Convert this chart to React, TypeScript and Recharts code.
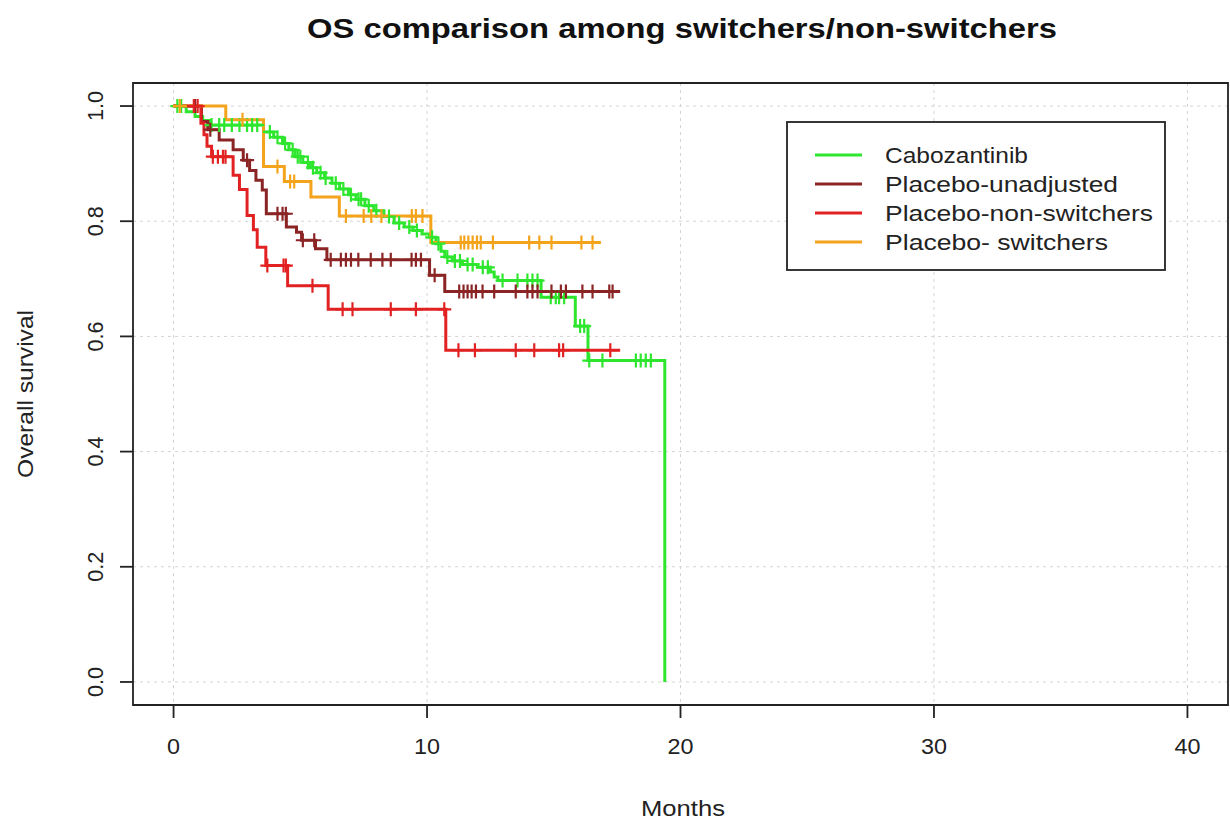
import React from 'react';
import { LineChart, Line, XAxis, YAxis, CartesianGrid, ReferenceArea } from 'recharts';

// Kaplan-Meier step points [month, survival]
const caboSteps: [number, number][] = [
    [0, 1.0], [0.5, 0.99], [0.85, 0.982], [1.15, 0.975], [1.45, 0.967], [3.55, 0.955], [3.95, 0.946],
    [4.3, 0.935], [4.55, 0.924], [4.8, 0.912], [5.1, 0.902], [5.4, 0.893], [5.65, 0.884], [5.95, 0.875],
    [6.25, 0.866], [6.55, 0.856], [6.9, 0.846], [7.2, 0.838], [7.55, 0.827], [7.9, 0.818], [8.3, 0.808],
    [8.7, 0.797], [9.1, 0.79], [9.45, 0.784], [9.8, 0.778], [10.1, 0.772], [10.35, 0.761], [10.55, 0.748],
    [10.7, 0.738], [11.0, 0.731], [11.4, 0.725], [12.0, 0.72], [12.5, 0.712], [12.65, 0.703], [12.8, 0.697],
    [14.5, 0.668], [15.85, 0.618], [16.35, 0.558], [19.38, 0.0],
];
const caboCensor = [
    0.15, 0.3, 1.5, 1.8, 2.0, 2.3, 2.6, 2.9, 3.1, 3.3, 3.8, 4.1, 4.4, 4.7, 4.9, 5.0, 5.3, 5.5, 5.8, 6.0,
    6.4, 6.7, 7.0, 7.3, 7.4, 7.7, 8.0, 8.5, 8.9, 9.3, 9.6, 10.2, 10.45, 10.8, 11.1, 11.3, 11.6, 11.8, 12.2,
    12.4, 12.98, 13.57, 13.96, 14.16, 14.36, 14.88, 15.08, 15.21, 15.41, 16.04, 16.2, 16.4, 16.92, 18.24,
    18.43, 18.63, 18.83,
];

const unadjSteps: [number, number][] = [
    [0, 1.0], [1.1, 0.973], [1.35, 0.959], [1.8, 0.941], [2.35, 0.924], [2.75, 0.906], [3.0, 0.888],
    [3.25, 0.871], [3.5, 0.854], [3.66, 0.813], [4.45, 0.79], [4.85, 0.781], [5.05, 0.767], [5.6, 0.752],
    [6.05, 0.733], [10.1, 0.706], [10.7, 0.678],
];
const unadjCensor = [
    0.85, 1.45, 2.9, 4.1, 4.3, 4.43, 5.1, 5.55, 6.2, 6.6, 6.8, 7.0, 7.29, 7.78, 8.24, 8.57, 9.39, 9.56,
    9.76, 10.3, 11.27, 11.44, 11.6, 11.76, 11.93, 12.19, 12.65, 13.5, 13.96, 14.16, 14.36, 14.91, 15.28,
    15.48, 16.13, 16.53, 17.19, 17.32,
];
const unadjEnd = 17.62;

const nonSwSteps: [number, number][] = [
    [0, 1.0], [1.08, 0.97], [1.2, 0.95], [1.32, 0.93], [1.5, 0.912], [2.35, 0.88], [2.6, 0.855],
    [2.9, 0.81], [3.15, 0.785], [3.3, 0.755], [3.64, 0.723], [4.5, 0.688], [6.1, 0.647], [10.74, 0.576],
];
const nonSwCensor = [
    0.8, 0.95, 1.55, 1.75, 1.95, 2.05, 3.7, 4.34, 4.43, 5.48, 6.67, 7.06, 8.57, 9.56, 10.68, 11.24,
    11.89, 13.5, 14.23, 15.21, 15.37, 17.23,
];
const nonSwEnd = 17.62;

const swSteps: [number, number][] = [
    [0, 1.0], [2.06, 0.976], [3.55, 0.895], [4.37, 0.869], [5.42, 0.842], [6.54, 0.809], [10.15, 0.763],
];
const swCensor = [
    0.25, 2.72, 4.1, 4.6, 4.76, 6.8, 7.5, 7.8, 8.2, 9.4, 9.56, 9.82, 11.33, 11.47, 11.63, 11.8, 11.97,
    12.12, 12.6, 14.03, 14.43, 14.91, 16.09, 16.53,
];
const swEnd = 16.86;

const X_TICKS = [0, 10, 20, 30, 40];
const Y_TICKS = [0, 0.2, 0.4, 0.6, 0.8, 1.0];

const SERIES_NAMES = ['Cabozantinib', 'Placebo-unadjusted', 'Placebo-non-switchers', 'Placebo- switchers'];
const COLORS = ['#2ee62e', '#8b2424', '#e22222', '#f4a41c'];
// rendered widths of the legend labels in the reference (font there is wider than Liberation Sans)
const LEGEND_WIDTHS = [143, 233, 268, 223];

type Pt = { t: number; s: number; c?: boolean };

function levelAt(steps: [number, number][], t: number) {
    let s = steps[0][1];
    for (const [st, sv] of steps) if (st <= t) s = sv;
    return s;
}

function buildCurve(steps: [number, number][], censor: number[], end?: number): Pt[] {
    const pts: Pt[] = steps.map(([t, s]) => ({ t, s }));
    censor.forEach((t) => pts.push({ t, s: levelAt(steps, t), c: true }));
    if (end !== undefined) pts.push({ t: end, s: levelAt(steps, end) });
    return pts.sort((a, b) => a.t - b.t);
}

const curves = [
    buildCurve(caboSteps, caboCensor),
    buildCurve(unadjSteps, unadjCensor, unadjEnd),
    buildCurve(nonSwSteps, nonSwCensor, nonSwEnd),
    buildCurve(swSteps, swCensor, swEnd),
];

const FONT = '"Liberation Sans", Arial, sans-serif';

const censorDot = (color: string) => (props: any) => {
    const { cx, cy, payload, index } = props;
    if (!payload || !payload.c || cx == null) return <g key={index} />;
    return (
        <path key={index} d={`M${cx - 7},${cy}H${cx + 7}M${cx},${cy - 7}V${cy + 7}`}
            stroke={color} strokeWidth={2.2} fill="none" />
    );
};

const XTick = (props: any) => {
    const { x, y, payload } = props;
    const label = String(payload.value);
    return (
        <text x={x} y={y + 20} textAnchor="middle" fontSize={22} fill="#222" fontFamily={FONT}
            textLength={label.length * 13} lengthAdjust="spacingAndGlyphs">
            {label}
        </text>
    );
};

const YTick = (props: any) => {
    const { x, y, payload } = props;
    return (
        <text x={x} y={y} transform={`rotate(-90 ${x} ${y})`} textAnchor="middle"
            fontSize={22} fill="#222" fontFamily={FONT} textLength={30} lengthAdjust="spacingAndGlyphs">
            {Number(payload.value).toFixed(1)}
        </text>
    );
};

export default function App() {
    return (
        <div style={{ position: 'absolute', left: 0, top: 0, width: 1230, height: 822, background: '#fff' }}>
            <LineChart width={1230} height={822} margin={{ top: 83, right: 2, bottom: 0, left: 0 }}
                style={{ fontFamily: FONT }}>
                <CartesianGrid stroke="#d4d4d4" strokeDasharray="3 4" />
                <XAxis type="number" dataKey="t" domain={[-1.6, 41.6]} ticks={X_TICKS} allowDataOverflow
                    height={117} axisLine={false} tickSize={13} tickMargin={16}
                    tickLine={{ stroke: '#222', strokeWidth: 1.8 }} tick={<XTick />} />
                <YAxis type="number" domain={[-0.04, 1.04]} ticks={Y_TICKS} allowDataOverflow width={133}
                    axisLine={false} tickSize={13} tickMargin={17}
                    tickLine={{ stroke: '#222', strokeWidth: 1.8 }} tick={<YTick />} />
                <ReferenceArea x1={-1.6} x2={41.6} y1={-0.04} y2={1.04} fill="none" fillOpacity={0}
                    stroke="#222" strokeWidth={1.8} ifOverflow="visible" />
                {curves.map((data, i) => (
                    <Line key={SERIES_NAMES[i]} data={data} dataKey="s" type="stepAfter" stroke={COLORS[i]}
                        strokeWidth={3} dot={censorDot(COLORS[i])} activeDot={false}
                        isAnimationActive={false} />
                ))}
            </LineChart>
            <svg width={1230} height={822} style={{ position: 'absolute', left: 0, top: 0, pointerEvents: 'none' }}
                fontFamily={FONT}>
                <text x={682} y={38} textAnchor="middle" fontSize={27} fontWeight="bold" fill="#111"
                    textLength={750} lengthAdjust="spacingAndGlyphs">
                    OS comparison among switchers/non-switchers
                </text>
                <text x={683} y={816} textAnchor="middle" fontSize={22} fill="#222"
                    textLength={84} lengthAdjust="spacingAndGlyphs">Months</text>
                <text x={33} y={394} transform="rotate(-90 33 394)" textAnchor="middle" fontSize={22} fill="#222"
                    textLength={168} lengthAdjust="spacingAndGlyphs">
                    Overall survival
                </text>
                <rect x={787} y={122} width={378} height={148} fill="#fff" stroke="#222" strokeWidth={1.8} />
                {SERIES_NAMES.map((name, i) => (
                    <g key={name}>
                        <line x1={815} x2={862} y1={155 + i * 29} y2={155 + i * 29} stroke={COLORS[i]} strokeWidth={3} />
                        <text x={885} y={163 + i * 29} fontSize={22} fill="#222"
                            textLength={LEGEND_WIDTHS[i]} lengthAdjust="spacingAndGlyphs">{name}</text>
                    </g>
                ))}
            </svg>
        </div>
    );
}
